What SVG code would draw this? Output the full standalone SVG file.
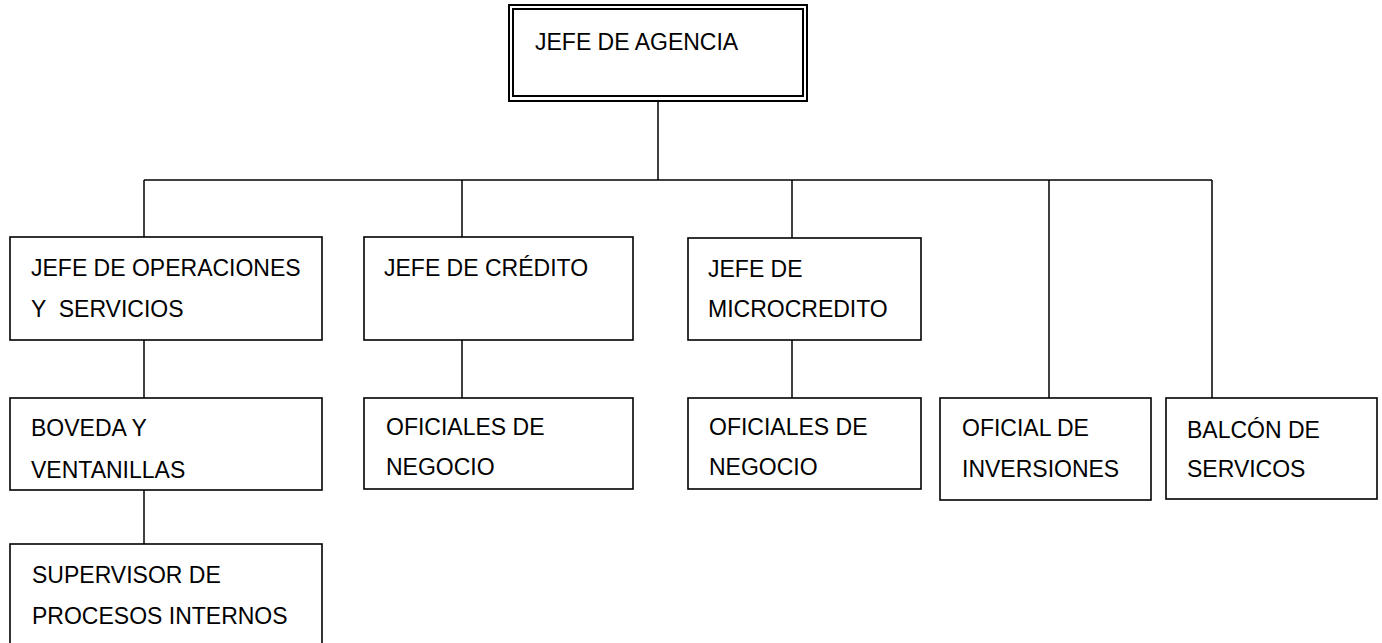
<svg xmlns="http://www.w3.org/2000/svg" width="1382" height="643" viewBox="0 0 1382 643">
<style>
.box{fill:#fff;stroke:#000;stroke-width:1.6}
.dbl{fill:none;stroke:#000;stroke-width:2}
.t{font-family:"Liberation Sans",Arial,sans-serif;font-size:23px;fill:#000}
.c{stroke:#000;stroke-width:1.5;fill:none}
</style>
<rect width="1382" height="643" fill="#fff"/>
<g id="connectors">
<line class="c" x1="658" y1="101" x2="658" y2="180"/>
<line class="c" x1="144" y1="180" x2="1212" y2="180"/>
<line class="c" x1="144" y1="180" x2="144" y2="237"/>
<line class="c" x1="462" y1="180" x2="462" y2="237"/>
<line class="c" x1="792" y1="180" x2="792" y2="238"/>
<line class="c" x1="1049" y1="180" x2="1049" y2="398"/>
<line class="c" x1="1212" y1="180" x2="1212" y2="398"/>
<line class="c" x1="144" y1="340" x2="144" y2="398"/>
<line class="c" x1="462" y1="340" x2="462" y2="398"/>
<line class="c" x1="792" y1="340" x2="792" y2="398"/>
<line class="c" x1="144" y1="490" x2="144" y2="544"/>
</g>
<g id="jefe-agencia">
<rect x="509" y="5" width="298" height="96" fill="#fff" stroke="#000" stroke-width="2"/>
<rect class="dbl" x="513" y="9" width="290" height="87"/>
<text class="t" x="535" y="50">JEFE DE AGENCIA</text>
</g>
<g id="jefe-operaciones">
<rect class="box" x="10" y="237" width="312" height="103"/>
<text class="t" x="31" y="276">JEFE DE OPERACIONES</text>
<text class="t" x="31" y="317" xml:space="preserve">Y  SERVICIOS</text>
</g>
<g id="jefe-credito">
<rect class="box" x="364" y="237" width="269" height="103"/>
<text class="t" x="384" y="276">JEFE DE CRÉDITO</text>
</g>
<g id="jefe-microcredito">
<rect class="box" x="688" y="238" width="233" height="102"/>
<text class="t" x="708" y="277">JEFE DE</text>
<text class="t" x="708" y="317">MICROCREDITO</text>
</g>
<g id="boveda">
<rect class="box" x="10" y="398" width="312" height="92"/>
<text class="t" x="31" y="436">BOVEDA Y</text>
<text class="t" x="31" y="478">VENTANILLAS</text>
</g>
<g id="oficiales-credito">
<rect class="box" x="364" y="398" width="269" height="91"/>
<text class="t" x="386" y="435">OFICIALES DE</text>
<text class="t" x="386" y="475">NEGOCIO</text>
</g>
<g id="oficiales-micro">
<rect class="box" x="688" y="398" width="233" height="91"/>
<text class="t" x="709" y="435">OFICIALES DE</text>
<text class="t" x="709" y="475">NEGOCIO</text>
</g>
<g id="oficial-inversiones">
<rect class="box" x="940" y="398" width="211" height="102"/>
<text class="t" x="962" y="436">OFICIAL DE</text>
<text class="t" x="962" y="477">INVERSIONES</text>
</g>
<g id="balcon-servicios">
<rect class="box" x="1166" y="398" width="211" height="101"/>
<text class="t" x="1187" y="438">BALCÓN DE</text>
<text class="t" x="1187" y="477">SERVICOS</text>
</g>
<g id="supervisor">
<rect class="box" x="10" y="544" width="312" height="110"/>
<text class="t" x="32" y="583">SUPERVISOR DE</text>
<text class="t" x="32" y="624">PROCESOS INTERNOS</text>
</g>
</svg>
